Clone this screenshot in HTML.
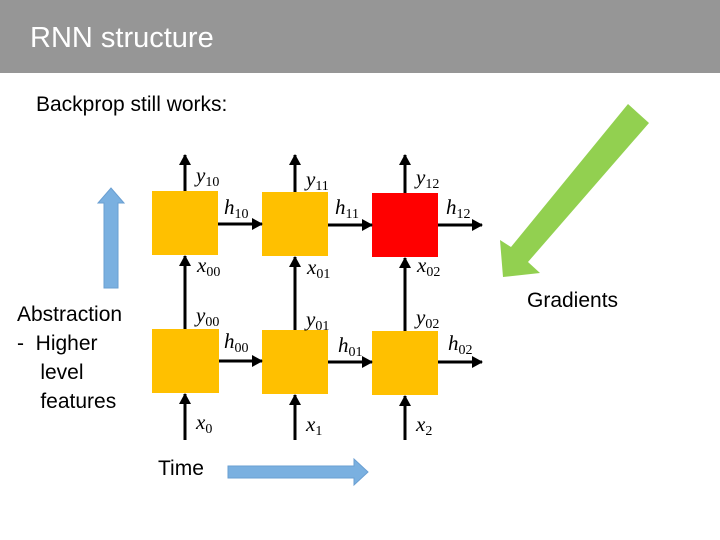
<!DOCTYPE html>
<html><head><style>
body{margin:0;width:720px;height:540px;overflow:hidden;background:#fff;position:relative;font-family:"Liberation Sans",sans-serif}
.t{position:absolute;white-space:nowrap}
.m{position:absolute;font-family:"Liberation Serif",serif;font-style:italic;font-size:21px;color:#000;white-space:nowrap}
.m sub{font-style:normal;font-size:14px;vertical-align:-4px}
</style></head><body>
<div style="position:absolute;left:0;top:0;width:720px;height:73px;background:#969696"></div>
<div class="t" style="left:30px;top:22px;font-size:29px;color:#fff">RNN structure</div>
<div class="t" style="left:36px;top:93px;font-size:21px">Backprop still works:</div>
<div class="t" style="left:17px;top:300px;font-size:21px;line-height:29px">Abstraction<br>-&nbsp; Higher<br>&nbsp;&nbsp;&nbsp;&nbsp;level<br>&nbsp;&nbsp;&nbsp;&nbsp;features</div>
<div class="t" style="left:527px;top:289px;font-size:21px">Gradients</div>
<div class="t" style="left:158px;top:457px;font-size:21px">Time</div>
<svg width="720" height="540" style="position:absolute;left:0;top:0">
<defs><marker id="a" markerWidth="8" markerHeight="8" refX="7" refY="4" orient="auto" markerUnits="userSpaceOnUse"><path d="M0,0 L8,4 L0,8z" fill="#000"/></marker>
<marker id="b" markerWidth="12" markerHeight="12" refX="10" refY="6" orient="auto" markerUnits="userSpaceOnUse"><path d="M0,0 L11,6 L0,12z" fill="#000"/></marker></defs>
<polygon points="628,104 649,123 528,262 540,273 503,277 500,240 511,247" fill="#92d050"/>
<polygon points="104,288 118,288 118,203 124,203 111,188 98,203 104,203" fill="#7ab0e0" stroke="#6a9fd2"/>
<polygon points="228,466 354,466 354,459 368,472 354,485 354,478 228,478" fill="#7ab0e0" stroke="#6a9fd2"/>
<rect x="152" y="191" width="66" height="64" fill="#ffc000"/>
<rect x="262" y="192" width="66" height="64" fill="#ffc000"/>
<rect x="372" y="193" width="66" height="64" fill="#ff0000"/>
<rect x="152" y="329" width="67" height="64" fill="#ffc000"/>
<rect x="262" y="330" width="66" height="64" fill="#ffc000"/>
<rect x="372" y="331" width="66" height="64" fill="#ffc000"/>
<g stroke="#000" stroke-width="3" fill="none">
<line x1="185" y1="191" x2="185" y2="155" marker-end="url(#b)"/>
<line x1="295" y1="192" x2="295" y2="155" marker-end="url(#b)"/>
<line x1="405" y1="193" x2="405" y2="155" marker-end="url(#b)"/>
<line x1="185" y1="329" x2="185" y2="256" marker-end="url(#b)"/>
<line x1="295" y1="330" x2="295" y2="257" marker-end="url(#b)"/>
<line x1="405" y1="331" x2="405" y2="258" marker-end="url(#b)"/>
<line x1="185" y1="440" x2="185" y2="394" marker-end="url(#b)"/>
<line x1="295" y1="440" x2="295" y2="395" marker-end="url(#b)"/>
<line x1="405" y1="440" x2="405" y2="396" marker-end="url(#b)"/>
<line x1="218" y1="224" x2="262" y2="224" marker-end="url(#b)"/>
<line x1="328" y1="225" x2="372" y2="225" marker-end="url(#b)"/>
<line x1="438" y1="225" x2="482" y2="225" marker-end="url(#b)"/>
<line x1="219" y1="361" x2="262" y2="361" marker-end="url(#b)"/>
<line x1="328" y1="362" x2="372" y2="362" marker-end="url(#b)"/>
<line x1="438" y1="362" x2="482" y2="362" marker-end="url(#b)"/>
</g></svg>
<div class="m" style="left:196px;top:163px">y<sub>10</sub></div>
<div class="m" style="left:306px;top:167px">y<sub>11</sub></div>
<div class="m" style="left:416px;top:165px">y<sub>12</sub></div>
<div class="m" style="left:224px;top:195px">h<sub>10</sub></div>
<div class="m" style="left:335px;top:195px">h<sub>11</sub></div>
<div class="m" style="left:446px;top:195px">h<sub>12</sub></div>
<div class="m" style="left:197px;top:253px">x<sub>00</sub></div>
<div class="m" style="left:307px;top:255px">x<sub>01</sub></div>
<div class="m" style="left:417px;top:253px">x<sub>02</sub></div>
<div class="m" style="left:196px;top:303px">y<sub>00</sub></div>
<div class="m" style="left:306px;top:307px">y<sub>01</sub></div>
<div class="m" style="left:416px;top:305px">y<sub>02</sub></div>
<div class="m" style="left:224px;top:329px">h<sub>00</sub></div>
<div class="m" style="left:338px;top:333px">h<sub>01</sub></div>
<div class="m" style="left:448px;top:331px">h<sub>02</sub></div>
<div class="m" style="left:196px;top:410px">x<sub>0</sub></div>
<div class="m" style="left:306px;top:412px">x<sub>1</sub></div>
<div class="m" style="left:416px;top:412px">x<sub>2</sub></div>
</body></html>
